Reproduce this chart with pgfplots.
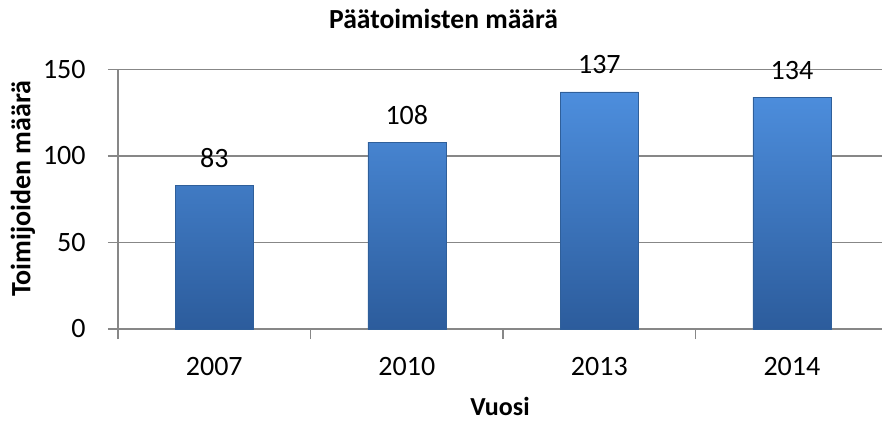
\documentclass[border=0pt]{standalone}
\usepackage{pgfplots}
\pgfplotsset{compat=1.18}
\usepackage{fontspec}
\setmainfont{Carlito}

\definecolor{gridgray}{HTML}{878787}
\definecolor{bartop}{HTML}{4D8EDD}
\definecolor{barbot}{HTML}{2C5C9C}
\definecolor{baredge}{HTML}{2F5F9A}

\begin{document}
\begin{tikzpicture}
\useasboundingbox (-59pt,-47pt) rectangle (382pt,164.5pt);
\begin{axis}[
    scale only axis,
    width=382pt,
    height=129.75pt,
    xmin=-0.5, xmax=3.468,
    ymin=0, ymax=150,
    axis x line*=bottom,
    axis y line*=left,
    axis line style={gridgray, line width=0.75pt},
    ytick={0,50,100,150},
    ymajorgrids,
    grid style={gridgray, line width=0.75pt},
    xtick={-0.5,0.5,1.5,2.5},
    xticklabels={},
    extra x ticks={0,1,2,3},
    extra x tick labels={2007,2010,2013,2014},
    extra x tick style={major tick length=0pt, grid=none},
    tick align=outside,
    major tick length=5pt,
    tick style={gridgray, line width=0.75pt},
    /pgf/number format/assume math mode=true,
    tick label style={font=\fontsize{14}{16}\selectfont, black},
    x tick label style={anchor=center, yshift=-19pt},
    y tick label style={anchor=east, inner sep=0pt, xshift=-11pt},
    ylabel={Toimijoiden määrä},
    ylabel style={at={(axis description cs:0,0.54)}, anchor=center, yshift=47.5pt, font=\fontsize{14}{16}\selectfont\bfseries},
    xlabel={Vuosi},
    xlabel style={at={(axis description cs:0.5,0)}, anchor=center, yshift=-38.5pt, font=\fontsize{13}{15}\selectfont\bfseries},
    title={Päätoimisten määrä},
    title style={at={(axis description cs:0.426,1)}, anchor=center, yshift=19.5pt, font=\fontsize{13.8}{16}\selectfont\bfseries},
    clip=false,
]
\addplot[
    ybar,
    bar width=39pt,
    draw=baredge,
    line width=0.3pt,
    top color=bartop,
    bottom color=barbot,
    nodes near coords,
    every node near coord/.append style={anchor=center, yshift=13.5pt, font=\fontsize{14}{16}\selectfont, black},
] coordinates {(0,83) (1,108) (2,137) (3,134)};
\end{axis}
\end{tikzpicture}
\end{document}
